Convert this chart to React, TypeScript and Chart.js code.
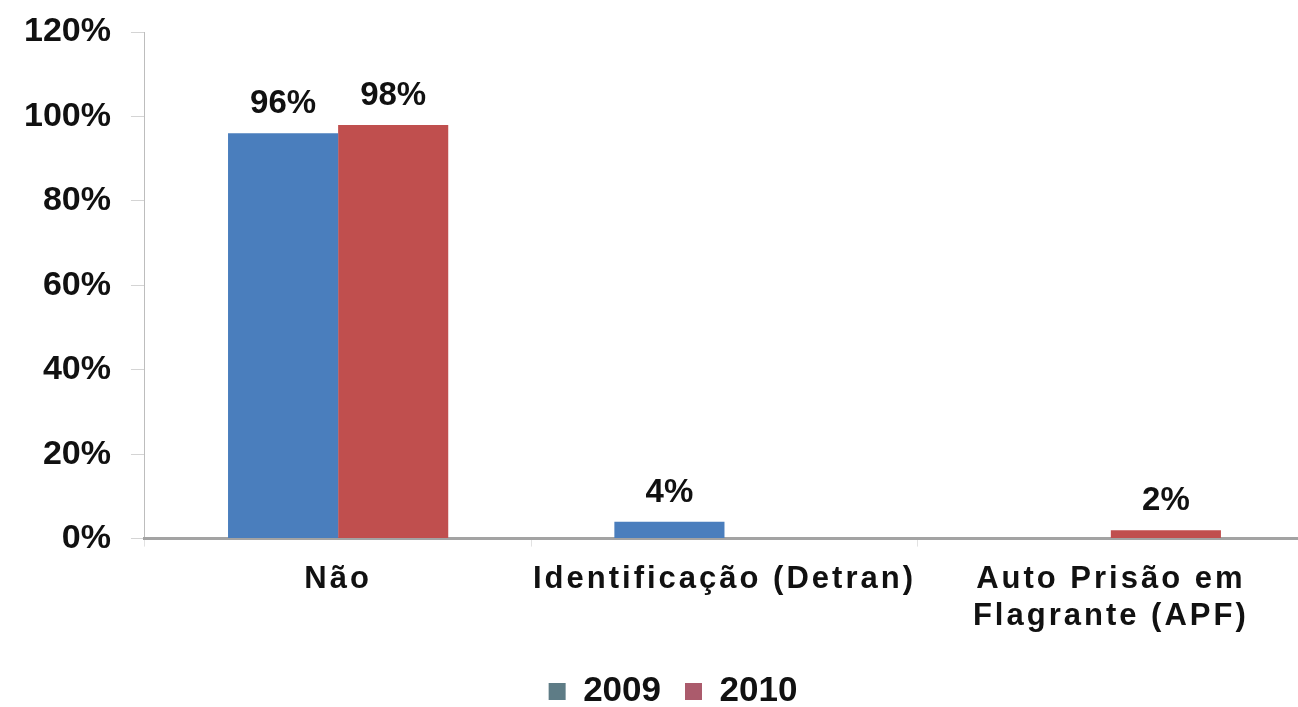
import React, { useEffect, useRef } from 'react';
import { Chart, registerables } from 'chart.js';

Chart.register(...registerables);

const categories: string[][] = [['Não'], ['Identificação (Detran)'], ['Auto Prisão em', 'Flagrante (APF)']];
const seriesNames = ['2009', '2010'];
const values2009 = [96, 4, 0];
const values2010 = [98, 0, 2];
const barColors = ['#4a7ebd', '#c04f4e'];
const legendColors = ['#5e7c86', '#ab5b6c'];
const yMax = 120;
const yStep = 20;

const FONT = '"Liberation Sans", Arial, sans-serif';

export default function App() {
  const ref = useRef<HTMLCanvasElement>(null);
  useEffect(() => {
    if (!ref.current) return;
    const dataLabels = {
      id: 'dataLabels',
      afterDatasetsDraw(chart: any) {
        const ctx = chart.ctx;
        ctx.save();
        ctx.font = `bold 33px ${FONT}`;
        ctx.fillStyle = '#111';
        ctx.textAlign = 'center';
        ctx.textBaseline = 'alphabetic';
        chart.data.datasets.forEach((ds: any, di: number) => {
          const meta = chart.getDatasetMeta(di);
          meta.data.forEach((el: any, i: number) => {
            const v = ds.data[i];
            if (!v) return;
            ctx.fillText(v + '%', el.x, el.y - 20);
          });
        });
        ctx.restore();
      },
    };
    const spacing = {
      id: 'xSpacing',
      afterLayout(chart: any) {
        const s = chart.scales.x;
        if (!s.__patched) {
          const orig = s.drawLabels.bind(s);
          s.drawLabels = (a: any) => {
            const ctx = chart.ctx;
            ctx.save();
            (ctx as any).letterSpacing = '3px';
            orig(a);
            ctx.restore();
          };
          s.__patched = true;
        }
        const lg = chart.legend;
        if (lg) {
          const dx = 19;
          const dy = 1;
          lg.left += dx;
          lg.right += dx;
          lg.top += dy;
          lg.bottom += dy;
        }
      },
    };
    const chart = new Chart(ref.current, {
      type: 'bar',
      data: {
        labels: categories,
        datasets: [
          { label: seriesNames[0], data: values2009, backgroundColor: barColors[0], categoryPercentage: 0.57, barPercentage: 1.0 },
          { label: seriesNames[1], data: values2010, backgroundColor: barColors[1], categoryPercentage: 0.57, barPercentage: 1.0 },
        ],
      },
      options: {
        responsive: false,
        animation: false,
        layout: { padding: { left: 4, top: 0, right: 0, bottom: -11 } },
        plugins: {
          tooltip: { enabled: false },
          legend: {
            position: 'bottom',
            labels: {
              font: { family: FONT, size: 35, weight: 'bold' },
              color: '#111',
              boxWidth: 17,
              boxHeight: 17,
              padding: 24,
              generateLabels: (c: any) => {
                const items = (Chart.defaults.plugins.legend.labels as any).generateLabels(c);
                items.forEach((it: any, i: number) => {
                  it.fillStyle = legendColors[i];
                  it.strokeStyle = legendColors[i];
                  it.lineWidth = 0;
                });
                return items;
              },
            },
          },
        },
        scales: {
          y: {
            min: 0,
            max: yMax,
            afterFit: (scale: any) => {
              scale.paddingTop = 32;
            },
            ticks: {
              stepSize: yStep,
              padding: 20,
              color: '#111',
              font: { family: FONT, size: 34, weight: 'bold' },
              callback: (v: any) => v + '%',
            },
            grid: { drawOnChartArea: false, drawTicks: true, tickLength: 14, color: '#d4d4d4' },
            border: { color: '#bdbdbd', width: 1 },
          },
          x: {
            ticks: {
              padding: 14,
              color: '#111',
              font: { family: FONT, size: 31, weight: 'bold', lineHeight: 1.2 },
            },
            grid: { drawOnChartArea: false, drawTicks: true, tickLength: 8, color: '#e2e2e2' },
            border: { color: '#a3a3a3', width: 3 },
          },
        },
      },
      plugins: [dataLabels, spacing],
    });
    return () => chart.destroy();
  }, []);
  return (
    <div style={{ position: 'absolute', left: 0, top: 0, width: 1298, height: 707, overflow: 'hidden', background: '#fff' }}>
      <canvas ref={ref} width={1304} height={707} />
    </div>
  );
}
